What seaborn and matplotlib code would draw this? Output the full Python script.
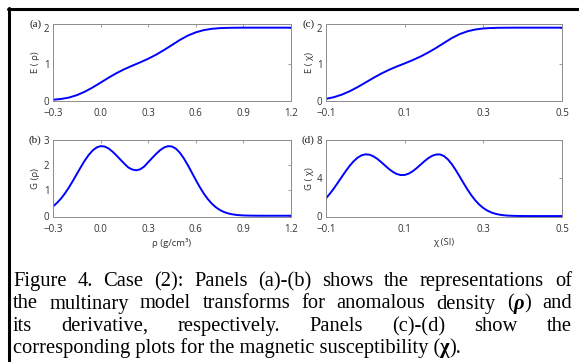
import matplotlib
matplotlib.use("Agg")
import seaborn as sns
import matplotlib.pyplot as plt
from matplotlib.lines import Line2D
from matplotlib.transforms import IdentityTransform

# %% data
# E(rho) and E(chi): transform curves, panels (a) and (c)
rho_e = [-0.30, -0.25, -0.20, -0.15, -0.10, -0.05, 0.00, 0.05, 0.10, 0.15, 0.20,
         0.25, 0.30, 0.35, 0.40, 0.45, 0.50, 0.55, 0.60, 0.65, 0.70, 0.75, 0.80,
         0.85, 0.90, 0.95, 1.00, 1.05, 1.10, 1.15, 1.20]
e_rho = [0.035, 0.055, 0.093, 0.159, 0.253, 0.370, 0.501, 0.635, 0.759, 0.868,
         0.964, 1.055, 1.152, 1.264, 1.391, 1.527, 1.666, 1.784, 1.873, 1.933,
         1.968, 1.987, 1.995, 1.998, 2.000, 2.000, 2.000, 2.000, 2.000, 2.000, 2.000]
chi_e = [-0.10, -0.08, -0.06, -0.04, -0.02, 0.00, 0.02, 0.04, 0.06, 0.08, 0.10,
         0.12, 0.14, 0.16, 0.18, 0.20, 0.22, 0.24, 0.26, 0.28, 0.30, 0.32, 0.34,
         0.36, 0.38, 0.40, 0.42, 0.44, 0.46, 0.48, 0.50]
e_chi = [0.058, 0.104, 0.173, 0.265, 0.377, 0.501, 0.627, 0.745, 0.849, 0.941,
         1.025, 1.113, 1.211, 1.324, 1.448, 1.584, 1.717, 1.825, 1.902, 1.951,
         1.978, 1.991, 1.997, 1.999, 2.000, 2.000, 2.000, 2.000, 2.000, 2.000, 2.000]

# G(rho) and G(chi): derivatives, panels (b) and (d)
rho_g = [-0.300, -0.275, -0.250, -0.225, -0.200, -0.175, -0.150, -0.125, -0.100,
         -0.075, -0.050, -0.025, 0.000, 0.025, 0.050, 0.075, 0.100, 0.125, 0.150,
         0.175, 0.200, 0.225, 0.250, 0.275, 0.300, 0.325, 0.350, 0.375, 0.400,
         0.425, 0.450, 0.475, 0.500, 0.525, 0.550, 0.575, 0.600, 0.625, 0.650,
         0.675, 0.700, 0.725, 0.750, 0.775, 0.800, 0.825, 0.850, 0.875, 0.900,
         0.925, 0.950, 0.975, 1.000, 1.025, 1.050, 1.075, 1.100, 1.125, 1.150,
         1.175, 1.200]
g_rho = [0.367, 0.507, 0.677, 0.883, 1.118, 1.377, 1.652, 1.924, 2.183,
         2.408, 2.586, 2.705, 2.757, 2.742, 2.666, 2.541, 2.388, 2.222, 2.060,
         1.910, 1.830, 1.800, 1.840, 1.950, 2.120, 2.288, 2.451, 2.596, 2.703,
         2.756, 2.742, 2.654, 2.492, 2.268, 2.001, 1.710, 1.416, 1.136, 0.883,
         0.665, 0.485, 0.343, 0.234, 0.155, 0.100, 0.062, 0.037, 0.022, 0.012,
         0.007, 0.004, 0.002, 0.001, 0.0, 0.0, 0.0, 0.0, 0.0, 0.0,
         0.0, 0.0]
chi_g = [-0.10, -0.09, -0.08, -0.07, -0.06, -0.05, -0.04, -0.03, -0.02, -0.01,
         0.00, 0.01, 0.02, 0.03, 0.04, 0.05, 0.06, 0.07, 0.08, 0.09,
         0.10, 0.11, 0.12, 0.13, 0.14, 0.15, 0.16, 0.17, 0.18, 0.19,
         0.20, 0.21, 0.22, 0.23, 0.24, 0.25, 0.26, 0.27, 0.28, 0.29,
         0.30, 0.31, 0.32, 0.33, 0.34, 0.35, 0.36, 0.37, 0.38, 0.39,
         0.40, 0.41, 0.42, 0.43, 0.44, 0.45, 0.46, 0.47, 0.48, 0.49, 0.50]
g_chi = [1.862, 2.356, 2.906, 3.500, 4.111, 4.712, 5.270, 5.753, 6.132, 6.382,
         6.491, 6.459, 6.297, 6.028, 5.688, 5.315, 4.954, 4.645, 4.422, 4.311,
         4.324, 4.458, 4.700, 5.023, 5.390, 5.759, 6.089, 6.338, 6.476, 6.480,
         6.308, 5.955, 5.447, 4.828, 4.143, 3.444, 2.770, 2.160, 1.629, 1.190,
         0.842, 0.577, 0.383, 0.245, 0.153, 0.092, 0.053, 0.030, 0.017, 0.009,
         0.004, 0.002, 0.001, 0.0, 0.0, 0.0, 0.0, 0.0, 0.0, 0.0, 0.0]

rho_ticks = [-0.3, 0.0, 0.3, 0.6, 0.9, 1.2]
rho_ticklabels = ["\u22120.3", "0.0", "0.3", "0.6", "0.9", "1.2"]
chi_ticks = [-0.1, 0.1, 0.3, 0.5]
chi_ticklabels = ["\u22120.1", "0.1", "0.3", "0.5"]

# caption, one list per printed line; a list of (text, weight, style) is one word
caption_lines = [
    ["Figure", "4.", "Case", "(2):", "Panels", "(a)-(b)", "shows", "the",
     "representations", "of"],
    ["the", "multinary", "model", "transforms", "for", "anomalous", "density",
     [("(", "normal", "normal"), ("\u03c1", "bold", "italic"), (")", "normal", "normal")],
     "and"],
    ["its", "derivative,", "respectively.", "Panels", "(c)-(d)", "show", "the"],
]
caption_last = [("corresponding plots for the magnetic susceptibility (", "normal", "normal"),
                ("\u03c7", "bold", "normal"), (").", "normal", "normal")]

# %% figure
sns.set_style("white")
plt.rcParams["font.family"] = ["Open Sans", "DejaVu Sans"]
W, H = 579, 362
fig = plt.figure(figsize=(W / 100, H / 100), dpi=100)
fig.patch.set_facecolor("white")

gray = "#8c8c8c"
txt = "#333333"


def add_ax(x0, y0, x1, y1):
    return fig.add_axes([x0 / W, 1 - y1 / H, (x1 - x0) / W, (y1 - y0) / H])


def style(ax, x, y, xticks, xlabels, yticks, ylim, ylabel, letter, lx, xlabel=None):
    sns.lineplot(x=x, y=y, ax=ax, color="#0000ff", linewidth=1.4)
    ax.set_xlim(xticks[0], xticks[-1])
    ax.set_ylim(ylim)
    ax.set_xticks(xticks, xlabels)
    ax.set_yticks(yticks)
    ax.tick_params(direction="in", length=2.5, width=0.6, color=gray,
                   labelsize=7, labelcolor=txt, top=True, right=True)
    ax.tick_params(axis="x", pad=5)
    ax.tick_params(axis="y", pad=2.5)
    for s in ax.spines.values():
        s.set_visible(True)
        s.set_color(gray)
        s.set_linewidth(0.7)
    ax.set_ylabel(ylabel, fontsize=6.8, color=txt)
    ax.yaxis.set_label_coords(lx, 0.5)
    if xlabel:
        ax.set_xlabel(xlabel, fontsize=6.8, color=txt)
        ax.xaxis.set_label_coords(0.5, -0.27)
    else:
        ax.set_xlabel("")
    ax.text(-0.048, 1.0, letter, transform=ax.transAxes, ha="right", va="center",
            fontsize=8, family="Liberation Serif", color="#1a1a1a")


ax_a = add_ax(53, 24, 291, 101)
ax_c = add_ax(326, 24, 562, 101)
ax_b = add_ax(53, 140, 291, 217)
ax_d = add_ax(326, 140, 562, 217)

style(ax_a, rho_e, e_rho, rho_ticks, rho_ticklabels, [0, 1, 2], (0, 2.1),
      "E ( \u03c1)", "(a)", -0.055)
style(ax_b, rho_g, g_rho, rho_ticks, rho_ticklabels, [0, 1, 2, 3], (-0.05, 3),
      "G (\u03c1)", "(b)", -0.055, "\u03c1 (g/cm\u00b3)")
style(ax_c, chi_e, e_chi, chi_ticks, chi_ticklabels, [0, 1, 2], (0, 2.1),
      "E ( \u03c7)", "(c)", -0.051)
style(ax_d, chi_g, g_chi, chi_ticks, chi_ticklabels, [0, 4, 8], (-0.1, 8),
      "G ( \u03c7)", "(d)", -0.051, "\u03c7 (SI)")

# frame lines of the page crop
fig.add_artist(Line2D([8 / W, 1], [1 - 8.5 / H] * 2, color="black", lw=2.2,
                      transform=fig.transFigure))
fig.add_artist(Line2D([8.5 / W] * 2, [0, 1 - 7.5 / H], color="black", lw=2.2,
                      transform=fig.transFigure))

# %% justified caption
renderer = fig.canvas.get_renderer()
cap_size = 14.8
cap_family = ["Liberation Serif", "DejaVu Serif"]
left, right = 13, 572
baselines = [286, 308.5, 331, 353]


def make_word(word):
    segs = [(word, "normal", "normal")] if isinstance(word, str) else word
    texts = []
    for s, wt, st in segs:
        t = fig.text(0, 0, s, fontsize=cap_size, family=cap_family,
                     weight=wt, style=st, color="black", va="baseline",
                     transform=IdentityTransform())
        texts.append((t, t.get_window_extent(renderer).width))
    return texts


def place(texts, x, y):
    for t, w in texts:
        t.set_position((x, y))
        x += w


for line, base in zip(caption_lines, baselines[:3]):
    words = [make_word(w) for w in line]
    widths = [sum(w for _, w in wd) for wd in words]
    gap = (right - left - sum(widths)) / (len(words) - 1)
    x = left
    for wd, wsum in zip(words, widths):
        place(wd, x, H - base)
        x += wsum + gap

place(make_word(caption_last), left, H - baselines[3])

fig.savefig("out.png", dpi=100)
